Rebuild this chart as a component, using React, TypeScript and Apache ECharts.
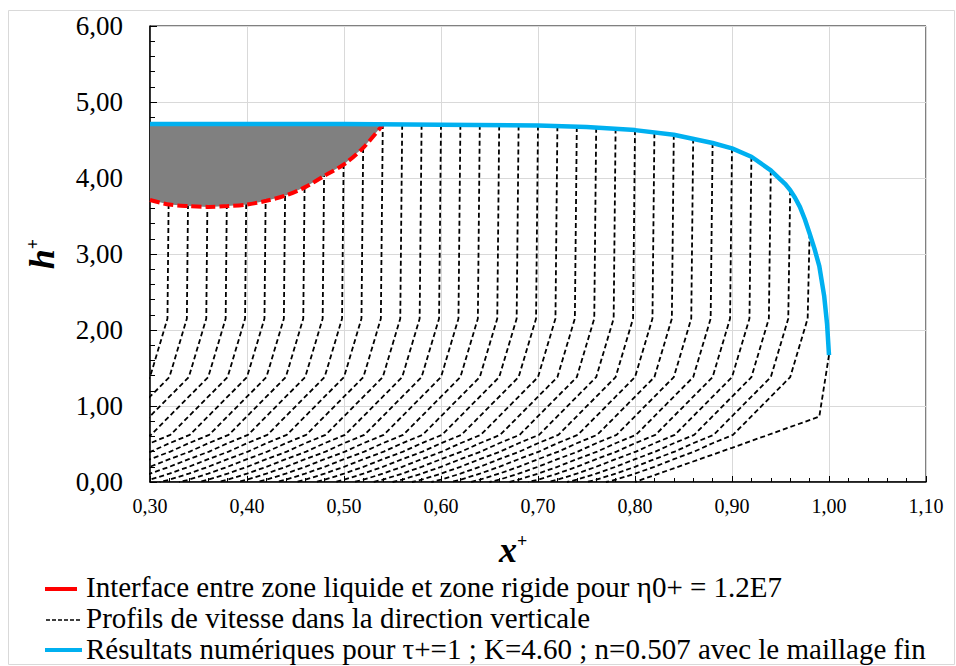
import React, { useEffect, useRef } from "react";
import * as echarts from "echarts";

// Free surface (numerical results)
const surfaceX = [0.30, 0.40, 0.50, 0.60, 0.70, 0.75, 0.80, 0.84, 0.88, 0.90, 0.92, 0.94, 0.95, 0.955, 0.96, 0.965, 0.97, 0.975, 0.98, 0.985, 0.99, 0.995, 0.998, 1.00];
const surfaceH = [4.71, 4.71, 4.71, 4.70, 4.69, 4.67, 4.63, 4.57, 4.46, 4.39, 4.28, 4.10, 3.98, 3.92, 3.84, 3.74, 3.62, 3.46, 3.27, 3.07, 2.84, 2.45, 2.08, 1.67];

// Liquid / rigid interface
const interfaceX = [0.30, 0.32, 0.34, 0.36, 0.38, 0.40, 0.42, 0.44, 0.46, 0.48, 0.50, 0.52, 0.54];
const interfaceH = [3.71, 3.65, 3.63, 3.62, 3.63, 3.65, 3.70, 3.77, 3.88, 4.03, 4.18, 4.40, 4.70];
const rigidTopH = 4.71;

// Velocity profiles: top points on the free surface
const profileTopX = [0.32, 0.34, 0.36, 0.38, 0.40, 0.42, 0.44, 0.46, 0.48, 0.50, 0.52, 0.54, 0.56, 0.58, 0.60, 0.62, 0.64, 0.66, 0.68, 0.70, 0.72, 0.74, 0.76, 0.78, 0.80, 0.82, 0.84, 0.86, 0.88, 0.90, 0.92, 0.94, 0.96, 0.98];
const profileTopH = [4.71, 4.71, 4.71, 4.71, 4.71, 4.71, 4.71, 4.71, 4.71, 4.71, 4.71, 4.71, 4.70, 4.70, 4.70, 4.70, 4.70, 4.69, 4.69, 4.69, 4.68, 4.67, 4.66, 4.65, 4.63, 4.59, 4.57, 4.52, 4.46, 4.39, 4.28, 4.10, 3.84, 3.27];
// Profile nodes below the surface: height and leftward shift from the top point
const profileLevelH = [2.15, 1.38, 0.62, 0.51, 0.40, 0.30, 0.20, 0.11, 0.03, 0.00];
const profileLevelShift = [0.002, 0.020, 0.079, 0.100, 0.119, 0.140, 0.160, 0.180, 0.200, 0.210];
// Front profile
const frontProfileX = [1.00, 0.990, 0.90, 0.80];
const frontProfileH = [1.67, 0.86, 0.45, 0.00];

const FONT = "'Liberation Serif', 'Times New Roman', serif";
const NAME_IFACE = "Interface entre zone liquide et zone rigide pour η0+ = 1.2E7";
const NAME_PROF = "Profils de vitesse dans la direction verticale";
const NAME_SURF = "Résultats numériques pour τ+=1 ; K=4.60 ; n=0.507 avec le maillage fin";

const fmt = (v: number) => v.toFixed(2).replace(".", ",");

export default function App() {
  const ref = useRef<HTMLDivElement>(null);
  useEffect(() => {
    document.body.style.margin = "0";
    document.body.style.overflow = "hidden";
    const chart = echarts.init(ref.current!, null, { renderer: "svg" });

    const profileLine = { color: "#000", width: 1.8, type: [5, 3] };
    const profileSeries: any[] = profileTopX.map((tx, i) => ({
      name: NAME_PROF,
      type: "line",
      silent: true,
      symbol: "none",
      clip: true,
      z: 2,
      lineStyle: profileLine,
      data: [[tx, profileTopH[i]], ...profileLevelH.map((h, j) => [tx - profileLevelShift[j], h])],
    }));
    profileSeries.push({
      name: NAME_PROF,
      type: "line",
      silent: true,
      symbol: "none",
      clip: true,
      z: 2,
      lineStyle: profileLine,
      data: frontProfileX.map((x, i) => [x, frontProfileH[i]]),
    });

    const legendText = (y: number, text: string) => ({
      type: "text",
      silent: true,
      x: 86,
      y,
      style: { text, font: `29px ${FONT}`, fill: "#000", verticalAlign: "middle" },
    });

    const option: any = {
      animation: false,
      backgroundColor: "#fff",
      textStyle: { fontFamily: FONT },
      grid: { left: 150, top: 26, right: 30, bottom: 184, show: true, borderColor: "#000", borderWidth: 1 },
      xAxis: {
        type: "value",
        min: 0.3,
        max: 1.1,
        interval: 0.1,
        name: "{a|x}{b|+}",
        nameLocation: "middle",
        nameGap: 50,
        nameTextStyle: {
          padding: [0, 50, 0, 0],
          rich: {
            a: { fontFamily: FONT, fontSize: 36, fontWeight: "bold", fontStyle: "italic", color: "#000" },
            b: { fontFamily: FONT, fontSize: 18, fontWeight: "bold", color: "#000", verticalAlign: "top" },
          },
        },
        axisLine: { show: true, onZero: false, lineStyle: { color: "#000", width: 1.5 } },
        axisTick: { show: true, inside: true, length: 6, lineStyle: { color: "#000" } },
        minorTick: { show: true, splitNumber: 5, length: 4, lineStyle: { color: "#000" } },
        axisLabel: { formatter: fmt, fontFamily: FONT, fontSize: 20, color: "#000", margin: 14 },
        splitLine: { show: true, lineStyle: { color: "#D9D9D9", width: 1 } },
      },
      yAxis: {
        type: "value",
        min: 0,
        max: 6,
        interval: 1,
        name: "{a|h}{b|+}",
        nameLocation: "middle",
        nameRotate: 90,
        nameGap: 90,
        nameTextStyle: {
          rich: {
            a: { fontFamily: FONT, fontSize: 36, fontWeight: "bold", fontStyle: "italic", color: "#000" },
            b: { fontFamily: FONT, fontSize: 18, fontWeight: "bold", color: "#000", verticalAlign: "top" },
          },
        },
        axisLine: { show: true, onZero: false, lineStyle: { color: "#000", width: 1.5 } },
        axisTick: { show: true, inside: true, length: 7, lineStyle: { color: "#000" } },
        minorTick: { show: true, splitNumber: 5, length: 5, lineStyle: { color: "#000" } },
        axisLabel: { formatter: fmt, fontFamily: FONT, fontSize: 27, color: "#000", margin: 27 },
        splitLine: { show: true, lineStyle: { color: "#D9D9D9", width: 1 } },
      },
      graphic: [
        { type: "rect", silent: true, shape: { x: 8.5, y: 10.5, width: 946, height: 654 }, style: { fill: "none", stroke: "#D9D9D9", lineWidth: 1 }, z: -1 },
        { type: "line", silent: true, shape: { x1: 45, y1: 589, x2: 77, y2: 589 }, style: { stroke: "#FF0000", lineWidth: 4 } },
        legendText(587, NAME_IFACE),
        { type: "line", silent: true, shape: { x1: 46, y1: 620, x2: 82, y2: 620 }, style: { stroke: "#000", lineWidth: 1.5, lineDash: [4, 2] } },
        legendText(618, NAME_PROF),
        { type: "line", silent: true, shape: { x1: 45, y1: 650, x2: 82, y2: 650 }, style: { stroke: "#00B0F0", lineWidth: 4 } },
        legendText(649, NAME_SURF),
      ],
      series: [
        ...profileSeries,
        {
          name: "rigid",
          type: "custom",
          silent: true,
          z: 3,
          data: [[interfaceX[0], rigidTopH]],
          renderItem: (_params: any, api: any) => {
            const pts = interfaceX.map((x, i) => api.coord([x, interfaceH[i]]));
            pts.push(api.coord([interfaceX[interfaceX.length - 1], rigidTopH]));
            pts.push(api.coord([interfaceX[0], rigidTopH]));
            return { type: "polygon", shape: { points: pts }, style: { fill: "#808080" } };
          },
        },
        {
          name: NAME_IFACE,
          type: "line",
          silent: true,
          symbol: "none",
          smooth: 0.3,
          z: 4,
          lineStyle: { color: "#FF0000", width: 4, type: [10, 4] },
          data: interfaceX.map((x, i) => [x, interfaceH[i]]),
        },
        {
          name: NAME_SURF,
          type: "line",
          silent: true,
          symbol: "none",
          smooth: false,
          z: 5,
          lineStyle: { color: "#00B0F0", width: 4.5, join: "round" },
          data: surfaceX.map((x, i) => [x, surfaceH[i]]),
        },
      ],
    };
    chart.setOption(option);
    return () => chart.dispose();
  }, []);
  return <div ref={ref} style={{ width: 956, height: 666 }} />;
}
